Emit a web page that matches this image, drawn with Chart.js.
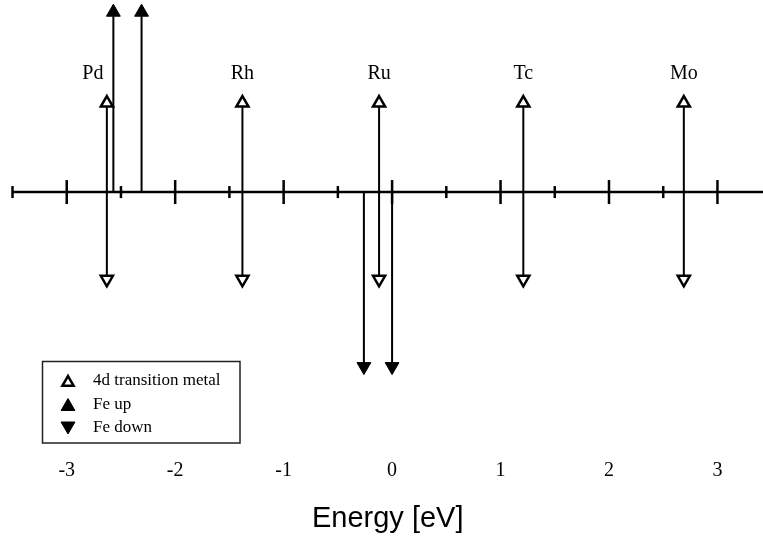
<!DOCTYPE html>
<html><head><meta charset="utf-8">
<script src="https://cdn.jsdelivr.net/npm/chart.js@4/dist/chart.umd.min.js"></script>
<style>html,body{margin:0;padding:0;background:#fff}#wrap{width:763px;height:540px;position:relative}</style>
</head><body><div id="wrap"><canvas id="c"></canvas></div>
<script>
// ---- data ----
const metalNames   = ['Pd', 'Rh', 'Ru', 'Tc', 'Mo'];
const metalEnergy  = [-2.63, -1.38, -0.12, 1.21, 2.69];
const metalUp      = [1, 1, 1, 1, 1];
const metalDown    = [-0.98, -0.98, -0.98, -0.98, -0.98];
const feUpEnergy   = [-2.57, -2.31];
const feUpValue    = [2.02, 2.02];
const feDownEnergy = [-0.26, 0.0];
const feDownValue  = [-1.96, -1.96];
const xTickLabels  = [-3, -2, -1, 0, 1, 2, 3];
const axisMarks    = [-3.5, -3, -2.5, -2, -1.5, -1, -0.5, 0, 0.5, 1, 1.5, 2, 2.5, 3, 3.5];
const legendItems  = ['4d transition metal', 'Fe up', 'Fe down'];

function arrow(e, v, fill, r, bw) {
  return {
    type: 'line',
    data: [{x: e, y: 0}, {x: e, y: v}],
    borderColor: '#000', borderWidth: 2,
    pointRadius: [0, r], pointStyle: 'triangle',
    pointRotation: v < 0 ? 180 : 0,
    pointBackgroundColor: fill, pointBorderColor: '#000', pointBorderWidth: bw,
    fill: false, tension: 0, clip: false
  };
}

const datasets = [];
feUpEnergy.forEach((e, i) => datasets.push(arrow(e, feUpValue[i], '#000', 8, 1)));
feDownEnergy.forEach((e, i) => datasets.push(arrow(e, feDownValue[i], '#000', 8, 1)));
metalEnergy.forEach((e, i) => {
  datasets.push(arrow(e, metalUp[i], '#fff', 7, 2.5));
  datasets.push(arrow(e, metalDown[i], '#fff', 7, 2.5));
});
// axis tick marks on the zero line
datasets.push({
  type: 'scatter',
  data: axisMarks.map(v => ({x: v, y: 0})),
  pointStyle: 'line', pointRotation: 90,
  pointRadius: axisMarks.map(v => Number.isInteger(v) ? 12 : 6),
  pointBorderWidth: 2.5, pointBorderColor: '#000', borderColor: '#000',
  showLine: false, clip: false
});
// zero line
datasets.push({
  type: 'line',
  data: [{x: axisMarks[0], y: 0}, {x: axisMarks[axisMarks.length - 1], y: 0}],
  borderColor: '#000', borderWidth: 2.5, pointRadius: 0, fill: false
});

const annot = {
  id: 'annot',
  afterDatasetsDraw(chart) {
    const {ctx, scales: {x, y}} = chart;
    ctx.save();
    ctx.fillStyle = '#000';
    ctx.font = '20px "Liberation Serif"';
    ctx.textAlign = 'center';
    ctx.textBaseline = 'alphabetic';
    metalNames.forEach((n, i) => {
      const px = x.getPixelForValue(metalEnergy[i]) + (i === 0 ? -14 : 0);
      const py = y.getPixelForValue(metalUp[i]) - 24;
      ctx.fillText(n, px, py);
    });
    // legend box
    ctx.strokeStyle = '#222';
    ctx.lineWidth = 1.5;
    ctx.strokeRect(42.5, 361.5, 197.5, 81.5);
    const rows = [381, 404.5, 428];
    const sx = 68;
    function tri(cx, cy, r, down) {
      const s = down ? -1 : 1;
      ctx.beginPath();
      ctx.moveTo(cx, cy - s * r);
      ctx.lineTo(cx + r * 0.866, cy + s * r * 0.5);
      ctx.lineTo(cx - r * 0.866, cy + s * r * 0.5);
      ctx.closePath();
    }
    ctx.strokeStyle = '#000';
    ctx.lineWidth = 2.5; ctx.fillStyle = '#fff';
    tri(sx, rows[0] + 1.5, 6.5, false); ctx.fill(); ctx.stroke();
    ctx.fillStyle = '#000'; ctx.lineWidth = 1;
    tri(sx, rows[1] + 2, 8, false); ctx.fill(); ctx.stroke();
    tri(sx, rows[2] - 2, 8, true); ctx.fill(); ctx.stroke();
    ctx.font = '17px "Liberation Serif"';
    ctx.textAlign = 'left';
    ctx.textBaseline = 'middle';
    legendItems.forEach((t, i) => ctx.fillText(t, 93, rows[i]));
    ctx.restore();
  }
};

new Chart(document.getElementById('c'), {
  type: 'scatter',
  data: {datasets},
  options: {
    responsive: true, maintainAspectRatio: false, animation: false,
    layout: {autoPadding: false, padding: {left: 12.5, right: 0, top: 0, bottom: 0}},
    plugins: {legend: {display: false}, tooltip: {enabled: false}},
    events: [],
    scales: {
      x: {
        type: 'linear', position: 'bottom', min: -3.5, max: 3.42,
        afterBuildTicks: a => { a.ticks = xTickLabels.map(v => ({value: v})); },
        grid: {display: false, drawTicks: false},
        border: {display: false},
        ticks: {color: '#000', font: {family: '"Liberation Serif"', size: 20}, padding: 0},
        title: {display: true, text: 'Energy [eV]', color: '#000',
                font: {family: '"Liberation Sans"', size: 29}, padding: {top: 18, bottom: 4}}
      },
      y: {display: false, min: -3, max: 2.157}
    }
  },
  plugins: [annot]
});
</script></body></html>
